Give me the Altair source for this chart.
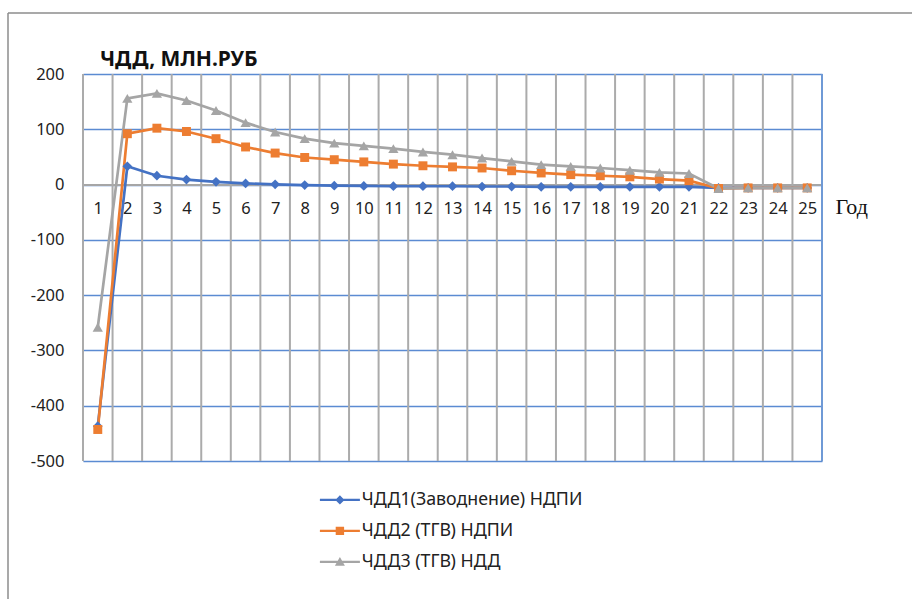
import altair as alt
import pandas as pd

years = list(range(1, 26))
s1 = [-437, 33, 16, 9, 5, 2, 0.5, -1, -2, -2.5, -3, -3, -3, -3.5, -3.5, -4, -4, -4, -4, -4, -4, -6, -6, -6, -6]
s2 = [-443, 92, 102, 96, 83, 68, 57, 49, 45, 41, 37, 34, 32, 30, 25, 21, 18, 16, 14, 10, 7, -7, -6, -6, -6]
s3 = [-258, 156, 165, 152, 134, 112, 95, 83, 75, 70, 65, 59, 54, 48, 42, 36, 33, 30, 26, 22, 20, -7, -6, -6, -6]
names = ["ЧДД1(Заводнение) НДПИ", "ЧДД2 (ТГВ) НДПИ", "ЧДД3 (ТГВ) НДД"]
colors = ["#4472C4", "#ED7D31", "#A5A5A5"]
shapes = ["diamond", "square", "triangle-up"]
y_ticks = [200, 100, 0, -100, -200, -300, -400, -500]
cat_bounds = [i + 0.5 for i in range(0, 25)]
last_bound = [25.5]

legend_paths = [
    "M-5,-0.3H5V0.3H-5Z M0,-1.15L1.15,0L0,1.15L-1.15,0Z",
    "M-5,-0.3H5V0.3H-5Z M-1.05,-1.05H1.05V1.05H-1.05Z",
    "M-5,-0.3H5V0.3H-5Z M0,-1.2L1.25,0.95H-1.25Z",
]

series_vals = [s1, s2, s3]
rows = []
for name, vals in zip(names, series_vals):
    for yr, v in zip(years, vals):
        rows.append({"year": yr, "value": v, "series": name})
df = pd.DataFrame(rows)

FONT = "Noto Sans"
xscale = alt.Scale(domain=[0.5, 25.5], nice=False, zero=False)
yscale = alt.Scale(domain=[-500, 200], nice=False)

H = 387
zero_offset = -(H - H * 200 / 700)

x_axis = alt.Axis(
    values=years,
    grid=False,
    ticks=False,
    domain=True,
    domainColor="#A6A6A6",
    domainWidth=2,
    offset=zero_offset,
    labelFont=FONT,
    labelFontSize=16.5,
    labelColor="#222222",
    labelPadding=16,
    labelBaseline="top",
    labelOverlap=False,
    labelFlush=False,
    labelSeparation=0,
    title="Год",
    titleFont="Liberation Serif",
    titleFontSize=22,
    titleFontWeight="normal",
    titleColor="#111111",
    titleX=752,
    titleY=22,
    titleAlign="left",
    titleBaseline="middle",
    titleAnchor="start",
)
y_axis = alt.Axis(
    values=y_ticks,
    grid=True,
    gridColor="#5B8BD2",
    gridWidth=1.5,
    ticks=False,
    domain=False,
    labelFont=FONT,
    labelFontSize=16.5,
    labelColor="#222222",
    labelPadding=19,
    labelExpr="'' + datum.value",
    title=None,
)

X = lambda f: alt.X(f, scale=xscale, axis=x_axis)
Y = lambda f: alt.Y(f, scale=yscale, axis=y_axis)

base = alt.Chart(df)

grid_v = alt.Chart(pd.DataFrame({"b": cat_bounds})).mark_rule(
    color="#ABABAB", strokeWidth=2
).encode(x=X("b:Q"))
grid_last = alt.Chart(pd.DataFrame({"b": last_bound})).mark_rule(
    color="#6F9AD6", strokeWidth=2
).encode(x=X("b:Q"))

axis_layer = base.mark_line(opacity=0).encode(x=X("year:Q"), y=Y("value:Q"))

layers = [grid_v, grid_last, axis_layer]
for name, col in zip(names, colors):
    layers.append(
        base.transform_filter(alt.datum.series == name)
        .mark_line(color=col, strokeWidth=2.7)
        .encode(x=X("year:Q"), y=Y("value:Q"))
    )
sizes = [95, 80, 105]
for name, col, shp, sz in zip(names, colors, shapes, sizes):
    layers.append(
        base.transform_filter(alt.datum.series == name)
        .mark_point(color=col, filled=True, shape=shp, size=sz, opacity=1)
        .encode(x=X("year:Q"), y=Y("value:Q"))
    )

leg = alt.Legend(
    orient="none",
    legendX=248,
    legendY=417,
    title=None,
    labelFont=FONT,
    labelFontSize=17.8,
    labelColor="#222222",
    labelOffset=13,
    labelLimit=400,
    symbolSize=64,
    symbolStrokeWidth=0,
    rowPadding=12,
    padding=0,
)
legend_layer = base.transform_filter("false").mark_point(filled=True, opacity=1).encode(
    x=X("year:Q"),
    y=Y("value:Q"),
    color=alt.Color("series:N", scale=alt.Scale(domain=names, range=colors), legend=leg),
    shape=alt.Shape("series:N", scale=alt.Scale(domain=names, range=legend_paths), legend=leg),
)
layers.append(legend_layer)

border_top = alt.Chart(pd.DataFrame({"k": [0]})).mark_rule(color="#8C8C8C", strokeWidth=1.5).encode(
    x=alt.value(-75), x2=alt.value(829), y=alt.value(-61)
)
border_left = alt.Chart(pd.DataFrame({"k": [0]})).mark_rule(color="#8C8C8C", strokeWidth=1.5).encode(
    x=alt.value(-75), y=alt.value(-61), y2=alt.value(525)
)
layers += [border_top, border_left]

chart = alt.layer(*layers).properties(
    width=739,
    height=H,
    autosize=alt.AutoSizeParams(type="none"),
    padding={"left": 83, "top": 74, "right": 90, "bottom": 138},
    title=alt.Title(
        "ЧДД, МЛН.РУБ",
        anchor="start",
        frame="group",
        font=FONT,
        fontSize=21,
        fontWeight="bold",
        color="#111111",
        dx=17,
        dy=58,
        offset=0,
    ),
).configure_view(stroke=None).configure_axis(labelOverlap=False).configure(background="white")

chart.save("out.html", embed_options={"renderer": "svg", "actions": False})
